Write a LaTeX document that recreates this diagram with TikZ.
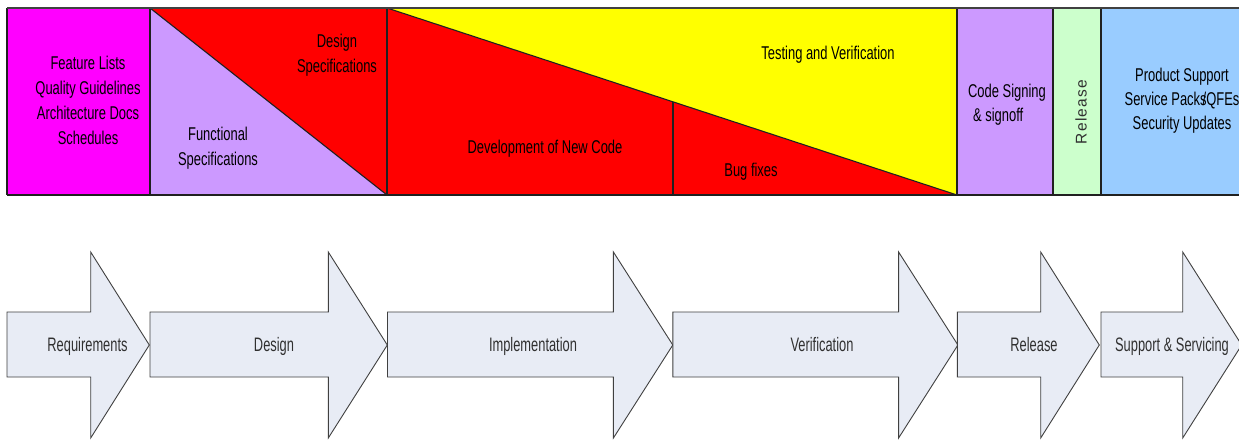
\documentclass[tikz,border=0pt]{standalone}
\usepackage{fontspec}
\setmainfont{Liberation Sans}
\newfontfamily\slimfont[FakeStretch=0.70]{Liberation Sans}
\newfontfamily\slimmerfont[FakeStretch=0.66]{Liberation Sans}
\newfontfamily\spacedfont[LetterSpace=8]{Liberation Sans}

\definecolor{magentacell}{HTML}{FF00FF}
\definecolor{lilac}{HTML}{CC99FF}
\definecolor{redcell}{HTML}{FF0000}
\definecolor{yellowcell}{HTML}{FFFF00}
\definecolor{mint}{HTML}{CCFFCC}
\definecolor{sky}{HTML}{99CCFF}
\definecolor{edge}{HTML}{202020}
\definecolor{arrowfill}{HTML}{E8ECF5}
\definecolor{arrowedge}{HTML}{404040}
\definecolor{labelgray}{HTML}{303030}

\begin{document}
\begin{tikzpicture}[x=1pt,y=-1pt,
  cell/.style={draw=edge,line width=1.1pt},
  lbl/.style={font=\slimfont\fontsize{18.5}{25}\selectfont,align=center,inner sep=0pt,text=black},
  stage/.style={fill=arrowfill,draw=arrowedge,line width=0.9pt,line join=miter},
  stagelbl/.style={font=\slimmerfont\fontsize{19.5}{22}\selectfont,text=labelgray,inner sep=0pt,anchor=base}]

\useasboundingbox (0,0) rectangle (1239,440);
\fill[white] (0,0) rectangle (1239,440);

% ---- phase band: coloured cells ----
\fill[magentacell] (7,8) rectangle (150,195);
\fill[lilac] (150,8) -- (150,195) -- (387,195) -- cycle;
\fill[redcell] (150,8) -- (387,8) -- (387,195) -- cycle;
\fill[redcell] (387,8) -- (957,195) -- (387,195) -- cycle;
\fill[yellowcell] (387,8) -- (957,8) -- (957,195) -- cycle;
\fill[lilac] (957,8) rectangle (1053,195);
\fill[mint] (1053,8) rectangle (1101,195);
\fill[sky] (1101,8) rectangle (1239,195);

% ---- phase band: rules ----
\draw[cell] (150,8) -- (387,195);
\draw[cell] (387,8) -- (957,195);
\draw[cell] (673,101.8) -- (673,195);
\foreach \xv in {7,150,387,957,1053,1101}
  \draw[cell] (\xv,8) -- (\xv,195);
\draw[cell] (7,195) -- (1239,195);
\draw[draw=arrowedge,line width=2pt] (7,8) -- (1239,8);

% ---- phase band: texts ----
\node[lbl] (docs) at (88,100) {Feature Lists\\Quality Guidelines\\Architecture Docs\\Schedules};
\node[lbl] (funcspec) at (218,148) {Functional\\Specifications};
\node[lbl] (designspec) at (337,55) {Design\\Specifications};
\node[lbl,anchor=base] (testing) at (828,59.5) {Testing and Verification};
\node[lbl,anchor=base] (devcode) at (545,153.5) {Development of New Code};
\node[lbl,anchor=base] (bugfix) at (751,176.5) {Bug fixes};
\node[lbl,align=left,font=\slimfont\fontsize{18.5}{24}\selectfont] (signing) at (1007,105) {Code Signing\\\hspace*{5pt}\& signoff};
\node[inner sep=0pt,rotate=90,font=\spacedfont\fontsize{15.5}{18}\selectfont,text=labelgray] (releasecell) at (1081,112) {Release};
\node[lbl,font=\slimfont\fontsize{18.5}{24}\selectfont] (support) at (1182,101) {Product Support\\Service Packs\kern-4pt/QFEs\\Security Updates};

% ---- process arrows: left edge / head base / tip ----
\foreach \xa/\xb/\xc in {7/90.7/149.3, 150/328.3/387.3, 387.5/613.4/672.8,
                          672.8/898.6/957.9, 957.3/1040.7/1099.3, 1101/1182.7/1241.7}
  \draw[stage] (\xa,312) -- (\xb,312) -- (\xb,252) -- (\xc,345)
               -- (\xb,438) -- (\xb,377) -- (\xa,377) -- cycle;

\node[stagelbl] (requirements) at (87.5,351) {Requirements};
\node[stagelbl] (design) at (274,351) {Design};
\node[stagelbl] (implementation) at (533,351) {Implementation};
\node[stagelbl] (verification) at (822,351) {Verification};
\node[stagelbl] (release) at (1034,351) {Release};
\node[stagelbl] (servicing) at (1172,351) {Support \& Servicing};
\end{tikzpicture}
\end{document}
